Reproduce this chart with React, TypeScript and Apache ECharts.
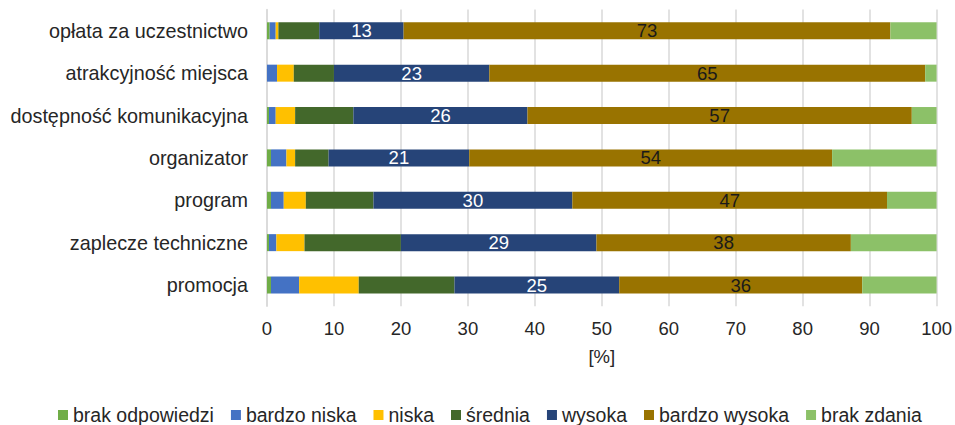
import React, { useEffect, useRef } from "react";
import * as echarts from "echarts";

const categories = [
  "opłata za uczestnictwo",
  "atrakcyjność miejsca",
  "dostępność komunikacyjna",
  "organizator",
  "program",
  "zaplecze techniczne",
  "promocja",
];
const brakOdpowiedzi = [0.4, 0, 0.3, 0.6, 0.6, 0.3, 0.6];
const bardzoNiska = [0.9, 1.5, 1.0, 2.3, 1.9, 1.1, 4.2];
const niska = [0.4, 2.5, 2.9, 1.3, 3.3, 4.2, 8.9];
const srednia = [6.1, 6.0, 8.7, 5.0, 10.1, 14.4, 14.3];
const wysoka = [12.6, 23.2, 26.0, 21.0, 29.7, 29.2, 24.6];
const bardzoWysoka = [72.7, 65.1, 57.4, 54.2, 47.0, 38.0, 36.3];
const brakZdania = [6.9, 1.7, 3.7, 15.6, 7.4, 12.8, 11.1];

const seriesNames = [
  "brak odpowiedzi",
  "bardzo niska",
  "niska",
  "średnia",
  "wysoka",
  "bardzo wysoka",
  "brak zdania",
];
const seriesData = [brakOdpowiedzi, bardzoNiska, niska, srednia, wysoka, bardzoWysoka, brakZdania];
const colors = ["#70AD47", "#4472C4", "#FFC000", "#43682B", "#264478", "#997300", "#8CC168"];
const labelled = [false, false, false, false, true, true, false];
const labelColors = ["#000", "#000", "#000", "#000", "#ffffff", "#1a1a1a", "#000"];

const FONT = "'Liberation Sans', Arial, sans-serif";

export default function App() {
  const ref = useRef<HTMLDivElement>(null);
  useEffect(() => {
    if (!ref.current) return;
    const chart = echarts.init(ref.current, null, { renderer: "svg" });
    chart.setOption({
      animation: false,
      textStyle: { fontFamily: FONT },
      grid: { left: 267, right: 17, top: 9.6, bottom: 118.8, containLabel: false },
      legend: {
        left: 58,
        top: 405,
        itemWidth: 10,
        itemHeight: 10,
        itemGap: 17,
        icon: "rect",
        padding: 0,
        textStyle: { fontFamily: FONT, fontSize: 19.5, color: "#262626" },
        data: seriesNames,
      },
      xAxis: {
        type: "value",
        min: 0,
        max: 100,
        interval: 10,
        name: "[%]",
        nameLocation: "middle",
        nameGap: 41,
        nameTextStyle: { fontFamily: FONT, fontSize: 18.5, color: "#262626" },
        axisLine: { show: false },
        axisTick: { show: false },
        axisLabel: { fontFamily: FONT, fontSize: 18.5, color: "#262626", margin: 13 },
        splitLine: { show: true, lineStyle: { color: "#d9d9d9", width: 1.5 } },
      },
      yAxis: {
        type: "category",
        inverse: true,
        data: categories,
        axisLine: { show: true, lineStyle: { color: "#d9d9d9", width: 1.5 } },
        axisTick: { show: false },
        axisLabel: { fontFamily: FONT, fontSize: 19.8, color: "#262626", margin: 19 },
      },
      series: seriesNames.map((name, i) => ({
        name,
        type: "bar",
        stack: "total",
        barWidth: 17,
        data: seriesData[i],
        itemStyle: { color: colors[i] },
        label: {
          show: labelled[i],
          position: "inside",
          fontFamily: FONT,
          fontSize: 18.5,
          color: labelColors[i],
          formatter: (p: any) => String(Math.round(p.value)),
        },
      })),
    });
    return () => chart.dispose();
  }, []);
  return <div ref={ref} style={{ width: 955, height: 425, position: "absolute", left: 0, top: 0 }} />;
}
